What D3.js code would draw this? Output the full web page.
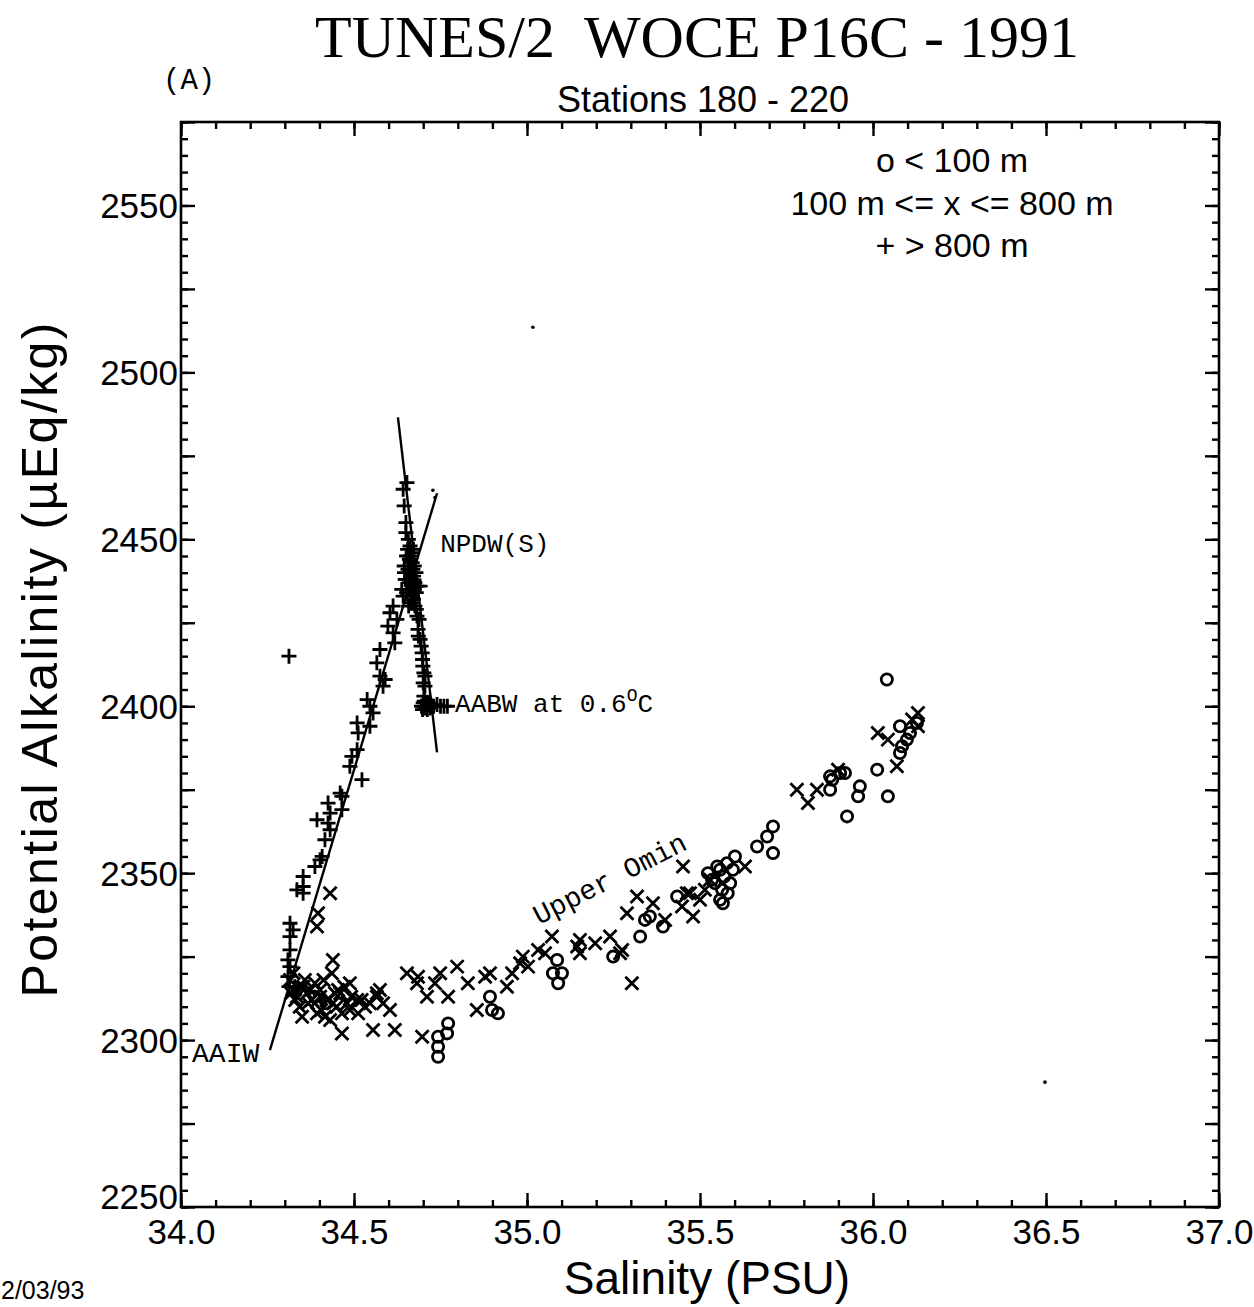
<!DOCTYPE html>
<html><head><meta charset="utf-8">
<script src="https://cdn.jsdelivr.net/npm/d3@7"></script>
<style>body{margin:0;background:#fff} svg{display:block}</style>
</head><body><svg id="c" width="1254" height="1307"></svg>
<script>
// ---------- data (Salinity PSU, Potential Alkalinity µEq/kg) ----------
const xTickValues = [34.0, 34.5, 35.0, 35.5, 36.0, 36.5, 37.0];
const xTickLabels = ["34.0", "34.5", "35.0", "35.5", "36.0", "36.5", "37.0"];
const yTickValues = [2250, 2300, 2350, 2400, 2450, 2500, 2550];
const yTickLabels = ["2250", "2300", "2350", "2400", "2450", "2500", "2550"];

// o : depth < 100 m
const shallow = [
  [34.772,2305],[34.769,2302],[34.743,2301],[34.743,2298],[34.743,2295],
  [34.893,2313],[34.899,2309],[34.916,2308],
  [35.087,2324],[35.075,2320],[35.101,2320],[35.090,2317],
  [35.249,2325],[35.327,2331],[35.341,2336],[35.355,2337],[35.393,2334],[35.434,2343],
  [35.523,2350],[35.535,2348],[35.558,2351],[35.578,2353],[35.601,2355],[35.564,2345],
  [35.558,2342],[35.566,2341],[35.587,2347],[35.543,2347],[35.550,2352],[35.570,2349],
  [35.595,2351],[35.580,2344],
  [35.665,2358],[35.694,2361],[35.711,2364],[35.711,2356],
  [35.876,2379],[35.905,2380],[35.919,2380],[35.876,2375],[35.882,2378],
  [36.012,2381],[35.962,2376],[35.957,2373],[36.043,2373],[35.925,2367],
  [36.040,2408],
  [36.078,2394],[36.107,2392],[36.098,2390],[36.084,2388],[36.078,2386],[36.127,2395],
  [34.387,2313],[34.420,2311],[34.396,2310]
];

// x : 100 m <= depth <= 800 m
const intermediate = [
  [34.431,2344],[34.396,2338],[34.393,2334],[34.439,2324],[34.436,2320],[34.488,2317],
  [34.460,2314],[34.566,2314],[34.350,2307],[34.465,2302],[34.555,2303],[34.618,2303],
  [34.653,2320],[34.685,2319],[34.682,2317],[34.711,2313],[34.734,2317],[34.749,2320],
  [34.772,2313],[34.798,2322],[34.829,2317],[34.697,2301],[34.855,2309],[34.879,2319],
  [34.893,2320],[34.942,2316],[34.957,2320],[34.980,2323],[34.988,2325],[35.003,2322],
  [35.032,2327],[35.052,2326],[35.072,2331],
  [34.353,2316],[34.387,2317],[34.324,2315],[34.335,2313],[34.364,2314],[34.402,2315],
  [34.454,2315],[34.367,2311],[34.402,2313],[34.439,2311],[34.480,2311],[34.509,2312],
  [34.575,2315],[34.566,2313],[34.546,2311],[34.532,2310],[34.584,2311],[34.604,2309],
  [34.393,2308],[34.416,2307],[34.431,2306],[34.465,2308],[34.488,2309],
  [34.315,2318],[34.325,2320],[34.345,2316],[34.358,2318],[34.373,2315],[34.412,2318],
  [34.422,2312],[34.445,2314],[34.472,2316],[34.492,2313],[34.512,2308],[34.522,2312],
  [34.330,2312],[34.343,2310],[34.378,2312],[34.405,2309],[34.450,2310],[34.318,2314],
  [35.145,2328],[35.153,2326],[35.153,2330],[35.197,2329],[35.240,2331],[35.269,2326],
  [35.303,2317],[35.275,2327],
  [35.451,2352],[35.318,2343],[35.364,2341],[35.289,2338],[35.399,2336],[35.462,2344],
  [35.448,2340],[35.480,2337],[35.500,2342],[35.471,2344],[35.630,2352],[35.514,2345],
  [35.529,2348],
  [35.780,2375],[35.812,2371],[35.838,2375],[35.899,2381],
  [36.014,2392],[36.043,2390],[36.069,2382],[36.130,2398],[36.130,2394],[36.113,2396]
];

// + : depth > 800 m
const deep = [
  [34.312,2415],[34.653,2467],[34.642,2465],[34.645,2460],[34.650,2455],
  [34.650,2452],[34.657,2450],[34.662,2448],[34.668,2446],[34.672,2447],[34.652,2445],
  [34.660,2444],[34.668,2443],[34.674,2442],[34.645,2442],[34.656,2441],[34.664,2440],
  [34.672,2439],[34.679,2440],[34.648,2438],[34.660,2437],[34.668,2436],[34.676,2437],
  [34.682,2436],[34.638,2435],[34.652,2434],[34.664,2433],[34.680,2434],[34.672,2432],
  [34.658,2430],[34.655,2447],[34.663,2445],[34.670,2441],[34.654,2438],[34.666,2438],
  [34.660,2435],[34.674,2435],[34.646,2440],[34.642,2433],[34.666,2431],
  [34.613,2430],[34.604,2428],[34.624,2426],[34.598,2424],[34.613,2422],[34.618,2419],
  [34.575,2417],[34.566,2413],[34.575,2409],[34.590,2408],[34.584,2406],[34.538,2402],
  [34.546,2400],[34.555,2398],[34.509,2395],[34.546,2394],[34.512,2392],[34.509,2387],
  [34.494,2385],[34.488,2382],[34.523,2378],[34.460,2374],[34.465,2373],[34.425,2371],
  [34.465,2369],[34.431,2368],[34.393,2366],[34.425,2365],[34.431,2363],[34.416,2360],
  [34.408,2355],[34.387,2352],[34.353,2349],[34.353,2346],[34.335,2345],[34.353,2344],
  [34.402,2354],[34.315,2335],[34.324,2333],[34.315,2331],[34.315,2327],[34.309,2324],
  [34.315,2322],[34.309,2319],[34.312,2316],[34.329,2316],
  [34.691,2436],[34.671,2432],[34.676,2430],[34.682,2427],[34.685,2423],[34.691,2420],
  [34.697,2416],[34.699,2412],[34.705,2409],[34.705,2406],[34.702,2403],[34.688,2426],
  [34.694,2418],[34.698,2414],[34.702,2410],[34.680,2429],[34.686,2421],[34.700,2407],
  [34.695,2400],[34.700,2401],[34.705,2399.5],[34.710,2400],[34.715,2400.5],[34.720,2399.5],
  [34.725,2400],[34.730,2400],[34.740,2400.5],[34.750,2400],[34.760,2400],[34.770,2400],
  [34.698,2399],[34.703,2401.5],[34.708,2401],[34.712,2399],[34.718,2401],[34.722,2400.5]
];

const fitSteep  = [[34.627,2486.5],[34.740,2386.2]];
const fitMixing = [[34.257,2297.0],[34.740,2463.8]];
const specks = [[35.017,2513.5],[36.497,2287.4],[34.728,2464.7],[34.734,2462.5]];

// ---------- drawing ----------
const svg = d3.select("#c");
const L = 181, R = 1219, T = 122, B = 1207;
const x = d3.scaleLinear().domain([34.0, 37.0]).range([L, R]);
const y = d3.scaleLinear().domain([2250, 2575]).range([B, T]);
const sans = "'Liberation Sans', Arial, Helvetica, sans-serif";
const serif = "'Liberation Serif', 'Times New Roman', serif";
const mono = "'Liberation Mono', 'Courier New', monospace";

const minorX = d3.range(34.0, 37.001, 0.1).map(v => +v.toFixed(1));
const minorY = d3.range(2250, 2576, 5);
const midY = d3.range(2250, 2576, 25);

function tickAxis(axisFn, scale, vals, size, tx, ty) {
  const g = svg.append("g").attr("transform", `translate(${tx},${ty})`)
    .call(axisFn(scale).tickValues(vals).tickSize(size).tickFormat(""));
  g.select(".domain").remove();
  g.selectAll(".tick line").attr("stroke", "#000").attr("stroke-width", 2.4);
  return g;
}
tickAxis(d3.axisBottom, x, minorX, -7, 0, B);
tickAxis(d3.axisBottom, x, xTickValues, -14, 0, B);
tickAxis(d3.axisTop, x, minorX, -7, 0, T);
tickAxis(d3.axisTop, x, xTickValues, -14, 0, T);
tickAxis(d3.axisLeft, y, minorY, -7, L, 0);
tickAxis(d3.axisLeft, y, midY, -14, L, 0);
tickAxis(d3.axisRight, y, minorY, -7, R, 0);
tickAxis(d3.axisRight, y, midY, -14, R, 0);

// tick labels
const gx = svg.append("g").attr("transform", `translate(0,${B})`)
  .call(d3.axisBottom(x).tickValues(xTickValues).tickSize(0).tickPadding(12)
    .tickFormat((d, i) => xTickLabels[i]));
gx.select(".domain").remove();
gx.selectAll("text").attr("font-family", sans).attr("font-size", 35).attr("fill", "#000");

const gy = svg.append("g").attr("transform", `translate(${L},0)`)
  .call(d3.axisLeft(y).tickValues(yTickValues).tickSize(0).tickPadding(3)
    .tickFormat((d, i) => yTickLabels[i]));
gy.select(".domain").remove();
gy.selectAll("text").attr("font-family", sans).attr("font-size", 35).attr("fill", "#000")
  .attr("dy", d => d === 2250 ? "0.05em" : "0.35em");

// frame
svg.append("rect").attr("x", L).attr("y", T).attr("width", R - L).attr("height", B - T)
  .attr("fill", "none").attr("stroke", "#000").attr("stroke-width", 2.6);

// fit lines
const line = d3.line().x(d => x(d[0])).y(d => y(d[1]));
[fitSteep, fitMixing].forEach(l => svg.append("path").attr("d", line(l))
  .attr("fill", "none").attr("stroke", "#000").attr("stroke-width", 2.4));

// markers
const mk = svg.append("g").attr("fill", "none").attr("stroke", "#000").attr("stroke-width", 2.8);
mk.selectAll("circle.o").data(shallow).join("circle")
  .attr("cx", d => x(d[0])).attr("cy", d => y(d[1])).attr("r", 5.6);
mk.selectAll("path.x").data(intermediate).join("path")
  .attr("transform", d => `translate(${x(d[0])},${y(d[1])})`)
  .attr("d", "M-6.5,-6.5L6.5,6.5M-6.5,6.5L6.5,-6.5");
mk.selectAll("path.p").data(deep).join("path")
  .attr("transform", d => `translate(${x(d[0])},${y(d[1])})`)
  .attr("d", "M-7.5,0L7.5,0M0,-7.5L0,7.5");
svg.append("g").selectAll("circle").data(specks).join("circle")
  .attr("cx", d => x(d[0])).attr("cy", d => y(d[1])).attr("r", 1.8).attr("fill", "#000");

// titles
svg.append("text").attr("x", 697).attr("y", 57).attr("text-anchor", "middle")
  .attr("font-family", serif).attr("font-size", 60)
  .style("white-space", "pre").text("TUNES/2  WOCE P16C - 1991");
svg.append("text").attr("x", 163).attr("y", 89).attr("font-family", mono)
  .attr("font-size", 29).text("(A)");
svg.append("text").attr("x", 703).attr("y", 112).attr("text-anchor", "middle")
  .attr("font-family", sans).attr("font-size", 36).text("Stations 180 - 220");
svg.append("text").attr("x", 707).attr("y", 1294).attr("text-anchor", "middle")
  .attr("font-family", sans).attr("font-size", 46).text("Salinity (PSU)");
svg.append("text").attr("transform", "translate(57,660) rotate(-90)").attr("text-anchor", "middle")
  .attr("font-family", sans).attr("font-size", 50)
  .attr("textLength", 675).attr("lengthAdjust", "spacing")
  .text("Potential Alkalinity (µEq/kg)");
svg.append("text").attr("x", 1).attr("y", 1299).attr("font-family", sans)
  .attr("font-size", 25).text("2/03/93");

// legend text
const legendLines = ["o < 100 m", "100 m <= x <= 800 m", "+ > 800 m"];
svg.append("g").selectAll("text").data(legendLines).join("text")
  .attr("x", 952).attr("y", (d, i) => 172 + i * 42.5).attr("text-anchor", "middle")
  .attr("font-family", sans).attr("font-size", 34).text(d => d);

// annotations
function ann(s, a, txt, size) {
  return svg.append("text").attr("x", x(s)).attr("y", y(a)).attr("font-family", mono)
    .attr("font-size", size).text(txt);
}
ann(34.749, 2446.2, "NPDW(S)", 26);
ann(34.032, 2293.4, "AAIW", 28);
const ab = svg.append("text").attr("x", x(34.792)).attr("y", y(2398.3))
  .attr("font-family", mono).attr("font-size", 26);
ab.append("tspan").text("AABW at 0.6");
ab.append("tspan").attr("font-size", 18).attr("dy", -11).text("O");
ab.append("tspan").attr("dy", 11).text("C");
svg.append("text")
  .attr("transform", `translate(${x(35.035)},${y(2334.5)}) rotate(-27)`)
  .attr("font-family", mono).attr("font-size", 28).text("Upper Omin");
</script></body></html>
